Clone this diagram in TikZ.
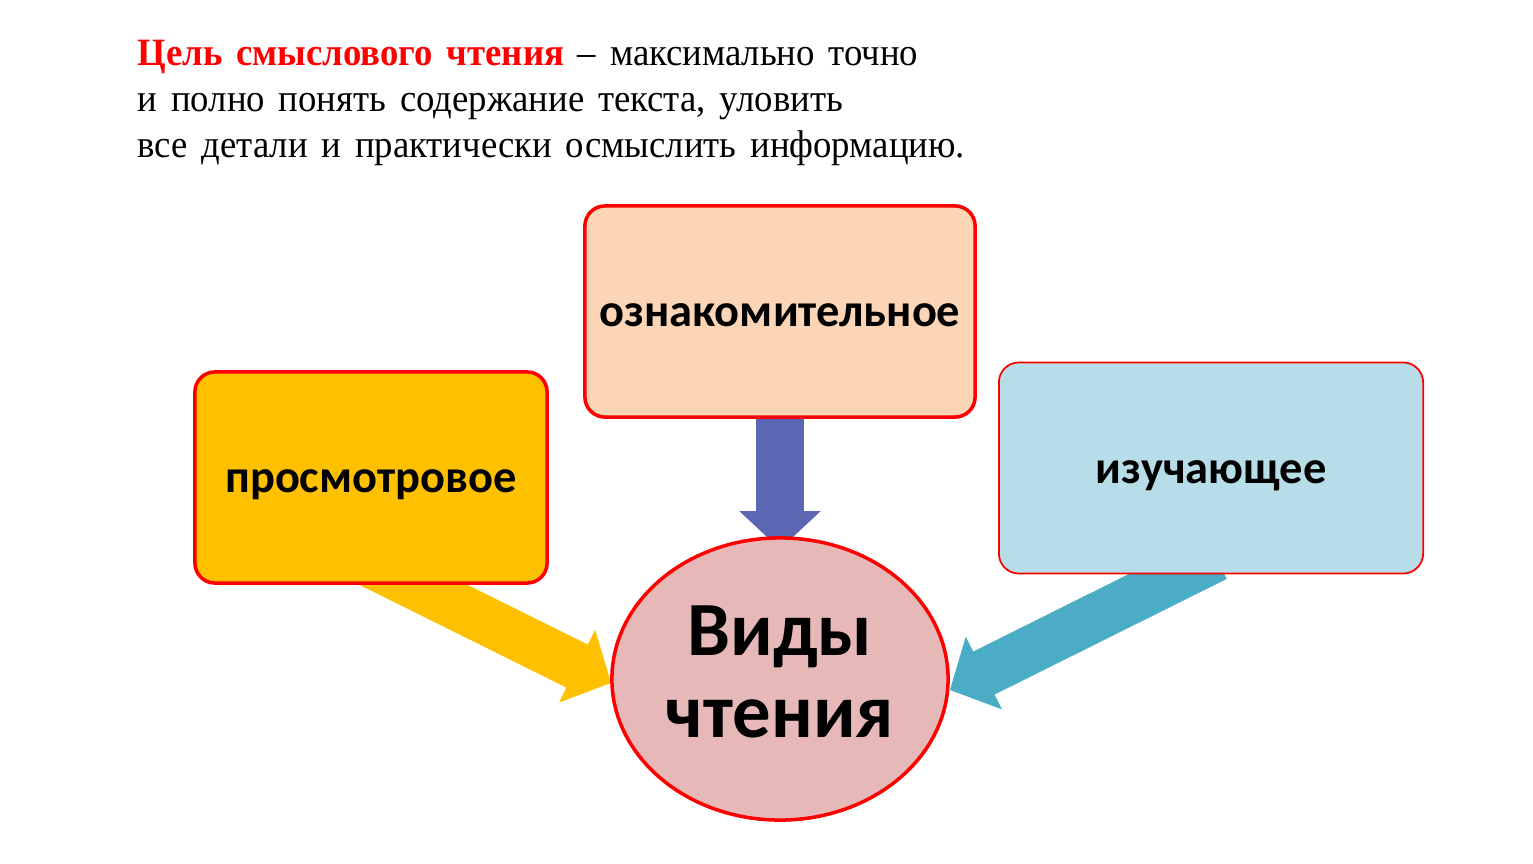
\documentclass[tikz,border=0pt]{standalone}
\usepackage{fontspec}
\setmainfont{Liberation Serif}
\newfontfamily\goalfont[FakeStretch=0.95, WordSpace=1.5]{Liberation Serif}
\newfontfamily\boxfont{Carlito}
\usetikzlibrary{arrows.meta,shapes.geometric,backgrounds}
\definecolor{peach}{HTML}{FBD5B5}
\definecolor{gold}{HTML}{FFC000}
\definecolor{lightteal}{HTML}{B7DEE8}
\definecolor{rose}{HTML}{E6B9B8}
\definecolor{slateblue}{HTML}{5B67B3}
\definecolor{teal}{HTML}{4BACC6}

\begin{document}
\begin{tikzpicture}[
	x=0.01cm, y=-0.01cm,
	kind/.style={
		draw=red,
		line width=1pt,
		rounded corners=0.2cm,
		minimum height=2.11cm,
		font=\boxfont\bfseries\fontsize{13.2}{16}\selectfont,
		text height=8.7pt,
		text depth=0pt,
		inner sep=2pt
	},
	goal/.style={
		anchor=base west,
		inner sep=0pt,
		font=\goalfont\fontsize{11}{13}\selectfont
	},
	fat/.style={
		line width=0.48cm,
		-{Triangle[length=0.38cm,width=0.79cm]}
	}
	]
	\useasboundingbox (0,0) rectangle (1533,864);

	\node[goal] (goal1) at (137,66)
	{\textcolor{red}{\textbf{Цель смыслового чтения}} – максимально точно};
	\node[goal] (goal2) at (137,112)
	{и полно понять содержание текста, уловить};
	\node[goal] (goal3) at (137,158)
	{все детали и практически осмыслить информацию.};

	\node[kind, fill=peach, minimum width=3.9cm] at (780,311.5)
	(oznak) {ознакомительное};
	\node[kind, fill=gold, minimum width=3.52cm] at (371,477.5)
	(prosm) {просмотровое};
	\node[kind, fill=lightteal, line width=0.5pt, minimum width=4.24cm] at (1211,468)
	(izuch) {изучающее};

	\node[ellipse, draw=red, line width=1pt, fill=rose, inner sep=0pt,
		minimum width=3.36cm, minimum height=2.82cm, text depth=4pt,
		align=center, font=\boxfont\bfseries\fontsize{21.8}{23.3}\selectfont]
	at (780,679) (vidy) {Виды\\чтения};

	\begin{scope}[on background layer]
		\draw[fat, slateblue] ([yshift=0.2cm]oznak.south) -- ([yshift=-0.13cm]vidy.north);
		\draw[fat, gold] ([shift={(-4,-23)}]prosm.south) -- ([shift={(1,4)}]vidy.west);
		\draw[fat, teal] ([shift={(5,-17)}]izuch.south) -- ([shift={(0,11)}]vidy.east);
	\end{scope}

	\end{tikzpicture}
\end{document}
